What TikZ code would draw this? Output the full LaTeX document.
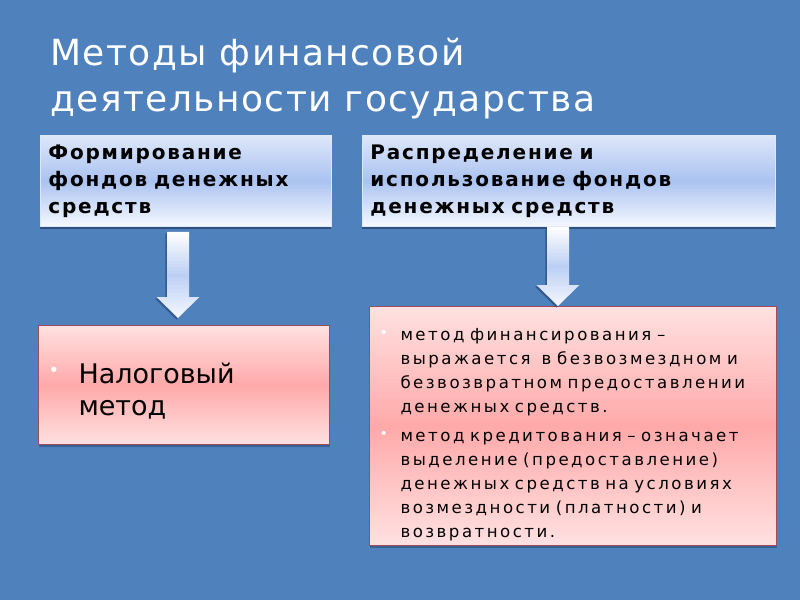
\documentclass[tikz,border=0pt]{standalone}
\usepackage{fontspec}
\setmainfont{DejaVu Sans}
\newfontfamily\titlefont[LetterSpace=4]{DejaVu Sans}
\newfontfamily\headfont[LetterSpace=9,WordSpace=2.2]{DejaVu Sans}
\newfontfamily\listfont[LetterSpace=15,WordSpace=2.2]{DejaVu Sans}
\usetikzlibrary{calc,shadows}
\definecolor{slide}{HTML}{4F81BD}
\definecolor{boxtop}{HTML}{DDE7F9}
\definecolor{boxmid}{HTML}{ABC3F1}
\definecolor{boxbot}{HTML}{F5F8FF}
\definecolor{pinkend}{HTML}{FFE1E1}
\definecolor{pinkmid}{HTML}{FFA9A9}
\definecolor{pinkline}{HTML}{9E4B5B}
\definecolor{shade}{HTML}{2C4A78}
\newcommand{\dotmark}[2]{\raisebox{#2}{\textcolor{white}{\fontsize{#1}{#1}\selectfont•}}}
\newcommand{\pitem}[3]{\par\hangindent=#1\hangafter=1\noindent\makebox[#1][l]{#2}#3}

\begin{document}
\begin{tikzpicture}[x=0.5pt,y=-0.5pt,
    headbox/.style={draw=boxtop, line width=0.4pt, anchor=north west,
        top color=boxtop, bottom color=boxbot, middle color=boxmid,
        drop shadow={shadow xshift=0pt, shadow yshift=-1.2pt, fill=shade, opacity=.9},
        inner xsep=4pt, inner ysep=0pt, minimum height=45.5pt, align=left,
        font=\headfont\bfseries\fontsize{10}{13.5}\selectfont},
    methodbox/.style={draw=pinkline, line width=0.5pt, anchor=north west,
        top color=pinkend, bottom color=pinkend, middle color=pinkmid,
        drop shadow={shadow xshift=0pt, shadow yshift=-1pt, fill=shade, opacity=.6},
        inner ysep=0pt},
    downarrow/.style={top color=white, bottom color=boxbot, middle color=boxmid!80,
        drop shadow={shadow xshift=-.8pt, shadow yshift=-.8pt, fill=shade, opacity=.7},
        to path={let \p1=(\tikztostart), \p2=(\tikztotarget) in
          (\x1-5.5pt,\y1) -- (\x1+5.5pt,\y1) -- (\x1+5.5pt,\y2+10.5pt) -- (\x1+10.75pt,\y2+10.5pt)
          -- (\x1,\y2) -- (\x1-10.75pt,\y2+10.5pt) -- (\x1-5.5pt,\y2+10.5pt) -- cycle}}]
  \fill[slide] (0,0) rectangle (800,600);
  \useasboundingbox (0,0) rectangle (800,600);

  \node(title)[anchor=north west, inner sep=0pt, align=left, text=white,
      font=\titlefont\fontsize{18}{23}\selectfont] at (50,38)
      {Методы финансовой\\деятельности государства};

  \node(form)[headbox, text width=137.5pt] at (40,135)
      {Формирование\\фондов денежных\\средств};
  \node(distr)[headbox, text width=198.5pt] at (362,135)
      {Распределение и\\использование фондов\\денежных средств};

  \node(tax)[methodbox, inner xsep=5pt, text width=135.5pt, minimum height=59.5pt,
      font=\fontsize{13.5}{16}\selectfont] at (38,325)
      {\raggedright\pitem{15pt}{\dotmark{9}{3.5pt}}{Налоговый\newline метод}\par\vspace{3pt}};
  \node(fin)[methodbox, inner xsep=5pt, text width=193.5pt, minimum height=119.5pt,
      font=\listfont\fontsize{8.3}{12}\selectfont] at (369,306)
      {\raggedright\setlength{\parskip}{2.5pt}%
       \pitem{10.5pt}{\dotmark{7}{1.2pt}}{метод финансирования –\newline выражается \ в безвозмездном и\newline безвозвратном предоставлении\newline денежных средств.}
       \pitem{10.5pt}{\dotmark{7}{1.2pt}}{метод кредитования – означает\newline выделение (предоставление)\newline денежных средств на условиях\newline возмездности (платности) и\newline возвратности.}\par\vspace{6pt}};

  \coordinate(formout) at ($(form.south west)+(138,5)$);
  \coordinate(taxin) at ($(tax.north west)+(140,-7)$);
  \coordinate(distrout) at ($(distr.south west)+(196,0)$);
  \coordinate(finin) at ($(fin.north west)+(189,0)$);
  \path[downarrow] (formout) to (taxin);
  \path[downarrow] (distrout) to (finin);
\end{tikzpicture}
\end{document}
